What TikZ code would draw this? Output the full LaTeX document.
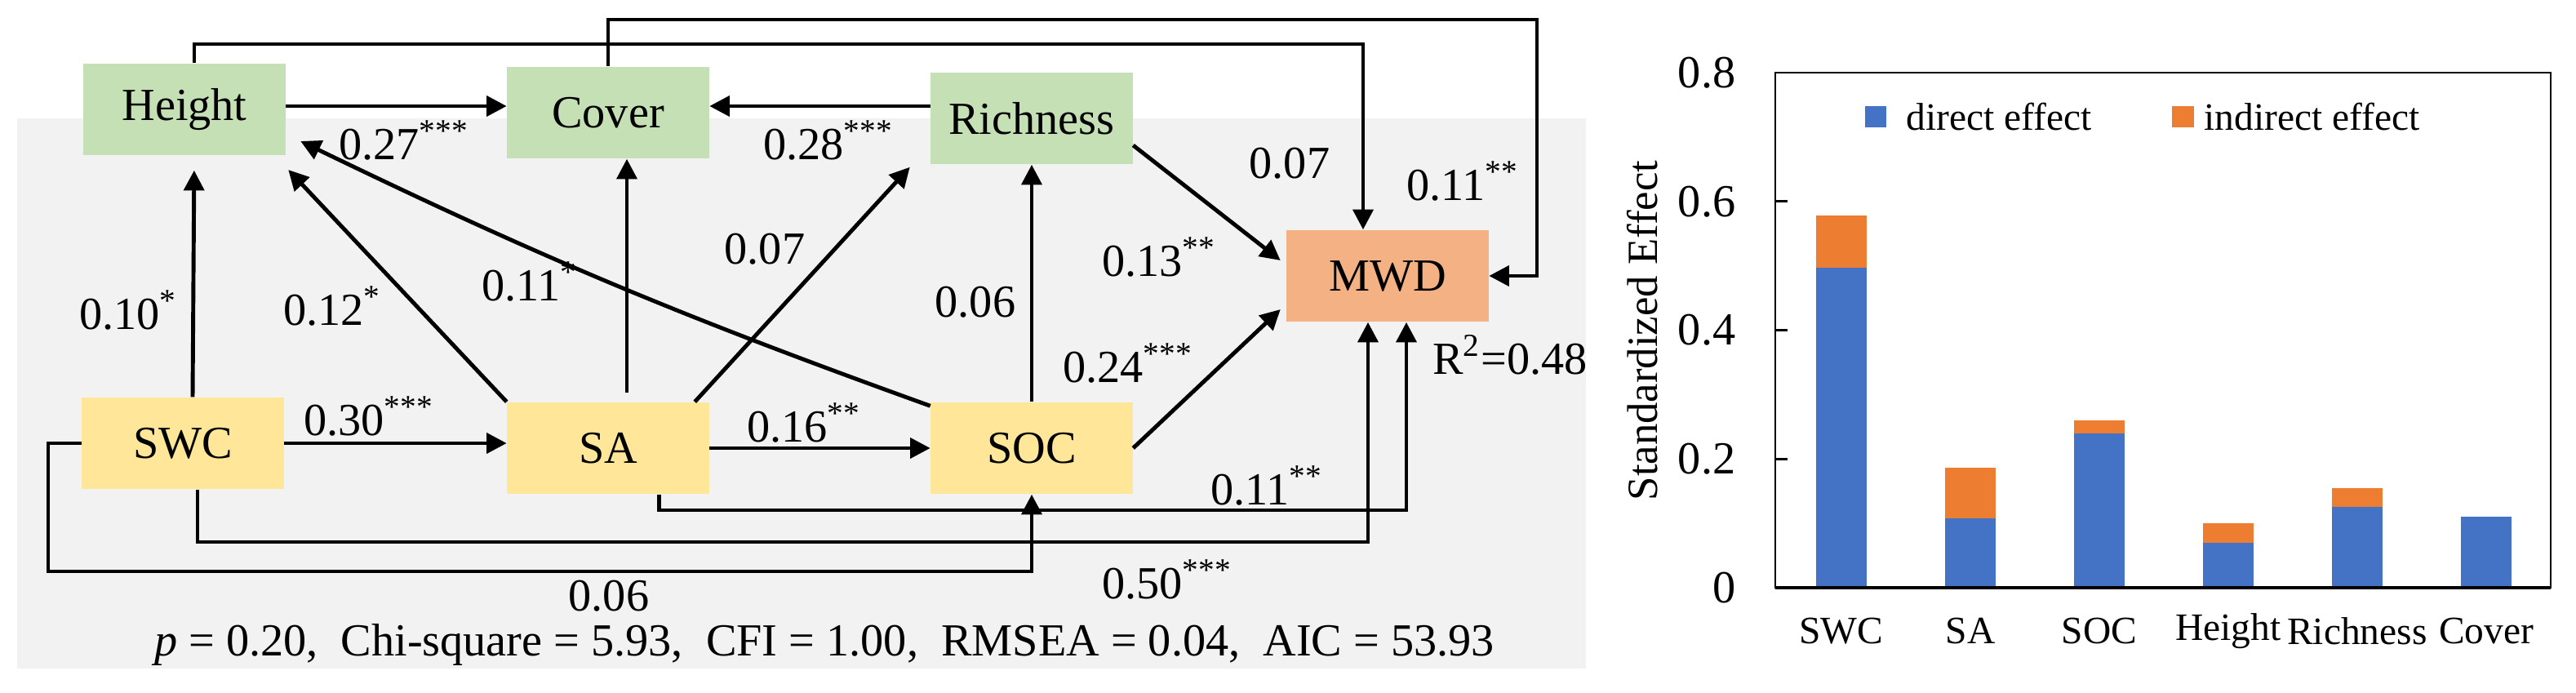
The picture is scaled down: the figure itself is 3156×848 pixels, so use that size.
\documentclass[tikz,border=0pt]{standalone}
\usepackage{fontspec}
\setmainfont{Liberation Serif}
\usetikzlibrary{arrows.meta,calc}
\definecolor{gbg}{HTML}{F2F2F2}
\definecolor{ngreen}{HTML}{C5E0B4}
\definecolor{nyellow}{HTML}{FFE699}
\definecolor{norange}{HTML}{F4B183}
\definecolor{bblue}{HTML}{4472C4}
\definecolor{borange}{HTML}{ED7D31}
\tikzset{
 box/.style={rectangle,minimum width=2.47cm,minimum height=1.12cm,inner sep=0pt,font=\fontsize{16}{18}\selectfont},
 gbox/.style={box,fill=ngreen},
 ybox/.style={box,fill=nyellow},
 obox/.style={box,fill=norange},
 arr/.style={line width=1.4pt,-{Triangle[length=7pt,width=7pt]}},
 lab/.style={font=\fontsize{16}{18}\selectfont,inner sep=0pt},
 clab/.style={font=\fontsize{13.5}{15}\selectfont,inner sep=0pt},
 tlab/.style={font=\fontsize{16}{18}\selectfont,inner sep=0pt,anchor=east},
}
\begin{document}
\begin{tikzpicture}[x=0.01cm,y=-0.01cm]
\useasboundingbox (0,0) rectangle (3156,848);
\fill[gbg] (21,145) rectangle (1943,819);
% nodes
\node[gbox] (Height) at (226,134) {Height};
\node[gbox] (Cover) at (745,138) {Cover};
\node[gbox] (Richness) at (1264,145) {Richness};
\node[ybox] (SWC) at (224,543) {SWC};
\node[ybox] (SA) at (745,549) {SA};
\node[ybox] (SOC) at (1264,549) {SOC};
\node[obox] (MWD) at (1700,338) {MWD};
% elbow points
\coordinate (t1) at (1670,54);
\coordinate (t2) at (1883,24);
\coordinate (b1) at (1723,625);
\coordinate (b2) at (1676,664);
\coordinate (b3) at (59,700);
% connectors
\draw[arr] ([xshift=0.12cm]Height.north) |- (t1) -- (t1 |- MWD.north);
\draw[arr] (Cover.north) |- (t2) |- (MWD.east);
\draw[arr] ([yshift=0.04cm]Height.east) -- ([yshift=0.04cm]Height.east -| Cover.west);
\draw[arr] ([yshift=0.15cm]Richness.west) -- ([yshift=0.15cm]Richness.west -| Cover.east);
\draw[arr,shorten >=0.18cm] ([xshift=0.12cm]SWC.north) -- ([xshift=0.12cm]Height.south);
\draw[arr] (SA.north west) -- ([shift={(0.03cm,-0.74cm)}]Height.east);
\draw[arr] ([yshift=-0.05cm]SOC.north west) to[bend left=3] ([shift={(0.18cm,-0.39cm)}]Height.east);
\draw[arr] ([xshift=0.23cm,yshift=0.11cm]SA.north) -- ([xshift=0.23cm]Cover.south);
\draw[arr] ([xshift=-0.18cm]SA.north east) -- ([shift={(-0.25cm,-0.03cm)}]Richness.south west);
\draw[arr] (SOC.north) -- (Richness.south);
\draw[arr] ([yshift=-0.33cm]Richness.east) -- ([shift={(-0.07cm,0.19cm)}]MWD.west);
\draw[arr] (SOC.east) -- ([shift={(-0.07cm,-0.41cm)}]MWD.west);
\draw[arr] (SWC.east) -- (SWC.east -| SA.west);
\draw[arr] (SA.east) -- (SOC.west);
\draw[arr] ([xshift=0.62cm]SA.south) |- (b1) -- (b1 |- MWD.south);
\draw[arr] ([xshift=0.18cm]SWC.south) |- (b2) -- (b2 |- MWD.south);
\draw[arr] (SWC.west) -| (b3) -| (SOC.south);
% labels
\node[lab] (l1) at (495,172) {0.27\textsuperscript{***}};
\node[lab] (l2) at (1015,172) {0.28\textsuperscript{***}};
\node[lab] (l3) at (157,380) {0.10\textsuperscript{*}};
\node[lab] (l4) at (407,375) {0.12\textsuperscript{*}};
\node[lab] (l5) at (649,345) {0.11\textsuperscript{*}};
\node[lab] (l6) at (937,305) {0.07};
\node[lab] (l7) at (1195,370) {0.06};
\node[lab] (l8) at (1580,200) {0.07};
\node[lab] (l9) at (1792,222) {0.11\textsuperscript{**}};
\node[lab] (l10) at (1420,315) {0.13\textsuperscript{**}};
\node[lab] (l11) at (1382,445) {0.24\textsuperscript{***}};
\node[lab] (l12) at (1850,435) {R\textsuperscript{2}=0.48};
\node[lab] (l13) at (452,510) {0.30\textsuperscript{***}};
\node[lab] (l14) at (985,518) {0.16\textsuperscript{**}};
\node[lab] (l15) at (1552,595) {0.11\textsuperscript{**}};
\node[lab] (l16) at (1430,710) {0.50\textsuperscript{***}};
\node[lab] (l17) at (746,730) {0.06};
\node[lab] (stats) at (1010,790) {\textit{p} = 0.20,\ \ Chi-square = 5.93,\ \ CFI = 1.00,\ \ RMSEA = 0.04,\ \ AIC = 53.93};
% bar chart
\foreach \x/\d/\t/\n in {2256/0.497/0.578/SWC,2414/0.108/0.187/SA,2572/0.240/0.260/SOC,2730/0.070/0.100/Height,2888/0.125/0.155/Richness,3046/0.110/0.110/Cover}{
  \fill[borange] (\x-31,720-788.75*\t) rectangle (\x+31,720);
  \fill[bblue] (\x-31,720-788.75*\d) rectangle (\x+31,720);
  \node[clab] at (\x,773) {\n};
}
\draw[line width=0.8pt] (2175,89) rectangle (3125,720);
\draw[line width=1.2pt] (2175,720) -- (3125,720);
\foreach \v/\s in {0/0,0.2/0.2,0.4/0.4,0.6/0.6,0.8/0.8}{
  \draw[line width=0.8pt] (2175,720-788.75*\v) -- (2190,720-788.75*\v);
  \node[tlab] at (2127,720-788.75*\v) {\s};
}
\node[font=\fontsize{15}{17}\selectfont,rotate=90,inner sep=0pt] (ylab) at (2012,405) {Standardized Effect};
\fill[bblue] (2285,130) rectangle (2311,156);
\node[clab,anchor=west] (lg1) at (2335,143) {direct effect};
\fill[borange] (2661,130) rectangle (2688,156);
\node[clab,anchor=west] (lg2) at (2700,143) {indirect effect};
\end{tikzpicture}
\end{document}
